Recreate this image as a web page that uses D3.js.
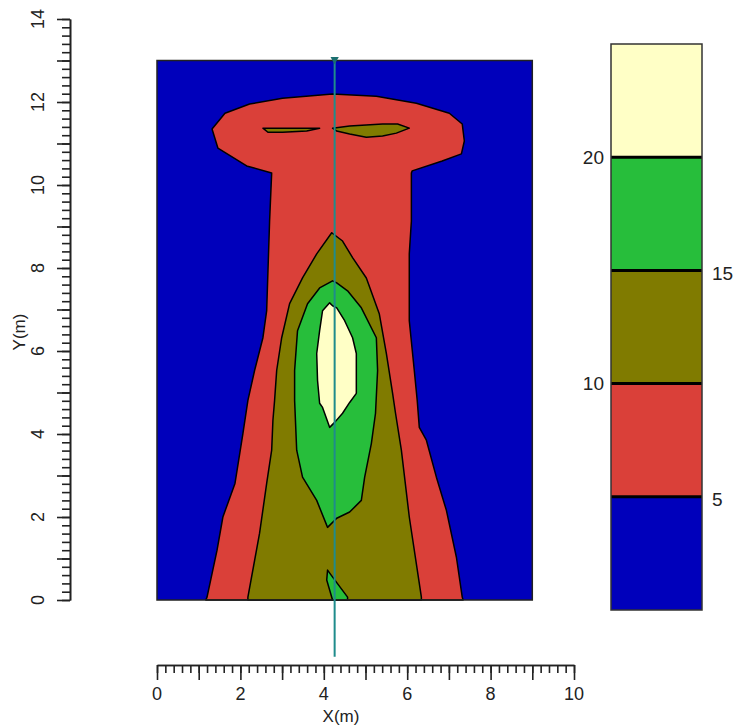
<!DOCTYPE html>
<html>
<head>
<meta charset="utf-8">
<script src="https://cdn.jsdelivr.net/npm/d3@7"></script>
<style>
body { margin: 0; background: #fff; }
text { font-family: Arial, "Liberation Sans", sans-serif; fill: #222; }
</style>
</head>
<body>
<div id="chart"></div>
<script>
// contour levels and the fill of each band (below 5 ... above 20)
var levels = [5, 10, 15, 20];
var bandColors = ["#0000bb", "#da4039", "#807b00", "#27be3b", "#ffffc6"];
var legendRange = [0, 25];
var legendLeft = [20, 10];   // labels drawn left of the colour bar
var legendRight = [15, 5];   // labels drawn right of it

// model extent (m)
var gridX = [0, 9];
var gridY = [0, 13];

// contour boundaries, [x(m), y(m)]
var zone5 = [
    [1.17, 0], [1.20, 0.07], [1.44, 1.20], [1.58, 2.00], [1.87, 2.81], [2.06, 4.01],
    [2.18, 4.81], [2.34, 5.53], [2.54, 6.32], [2.63, 6.97], [2.70, 9.13], [2.75, 10.29],
    [2.15, 10.46], [1.46, 10.89], [1.32, 11.35], [1.63, 11.73], [2.22, 11.95], [3.01, 12.09],
    [4.21, 12.19], [5.26, 12.14], [6.22, 11.97], [7.01, 11.73], [7.32, 11.47], [7.37, 11.06],
    [7.30, 10.75], [6.84, 10.58], [6.12, 10.34], [6.10, 10.29], [6.10, 9.13], [6.05, 8.34],
    [6.05, 6.73], [6.17, 5.53], [6.24, 4.81], [6.29, 4.16], [6.46, 3.85], [6.70, 2.96],
    [6.94, 2.16], [7.18, 1.03], [7.32, 0.07], [7.34, 0]
];
var zone10 = [
    [2.18, 0], [2.18, 0.07], [2.46, 1.61], [2.63, 2.81], [2.75, 3.61], [2.78, 4.33],
    [2.82, 4.81], [2.87, 5.53], [2.99, 6.32], [3.18, 7.14], [3.49, 7.76], [3.83, 8.34],
    [4.19, 8.85], [4.45, 8.65], [4.69, 8.25], [5.02, 7.76], [5.33, 6.90], [5.50, 5.94],
    [5.65, 4.98], [5.72, 4.50], [5.86, 3.61], [6.05, 2.00], [6.34, 0.07], [6.34, 0]
];
var zone10capLeft = [
    [2.54, 11.37], [3.18, 11.37], [3.90, 11.37], [3.59, 11.30], [3.01, 11.27], [2.66, 11.27]
];
var zone10capRight = [
    [4.21, 11.37], [4.62, 11.42], [5.41, 11.47], [5.77, 11.47], [6.05, 11.37], [5.74, 11.25],
    [5.41, 11.18], [5.02, 11.15], [4.62, 11.23], [4.31, 11.30]
];
var zone15 = [
    [4.21, 7.69], [3.90, 7.52], [3.61, 7.14], [3.37, 6.49], [3.30, 5.53], [3.30, 4.81],
    [3.35, 3.61], [3.49, 2.96], [3.83, 2.40], [4.09, 1.75], [4.31, 1.97], [4.62, 2.12],
    [4.90, 2.40], [4.98, 2.96], [5.14, 3.77], [5.24, 4.50], [5.29, 5.53], [5.26, 6.32],
    [4.90, 7.04], [4.57, 7.45], [4.31, 7.64]
];
var zone15foot = [
    [4.09, 0.72], [4.19, 0.58], [4.57, 0.07], [4.57, 0], [4.21, 0], [4.07, 0.48]
];
var zone20 = [
    [4.14, 7.16], [3.97, 6.97], [3.90, 6.49], [3.83, 5.94], [3.85, 5.29], [3.90, 4.74],
    [3.97, 4.64], [4.14, 4.16], [4.26, 4.28], [4.45, 4.50], [4.62, 4.76], [4.78, 4.98],
    [4.78, 5.94], [4.69, 6.32], [4.50, 6.73], [4.31, 7.04], [4.21, 7.09]
];
var zones = [
    { level: 5, pts: zone5 },
    { level: 10, pts: zone10 },
    { level: 10, pts: zone10capLeft },
    { level: 10, pts: zone10capRight },
    { level: 15, pts: zone15 },
    { level: 15, pts: zone15foot },
    { level: 20, pts: zone20 }
];

// profile line through the section
var profileX = 4.26;
var profileY = [13, -1.37];

var width = 740,
    height = 725;

var x = d3.scaleLinear().domain([0, 10]).range([157, 574]);
var y = d3.scaleLinear().domain([0, 14]).range([600, 19]);

var color = d3.scaleThreshold().domain(levels).range(bandColors);

var svg = d3.select("#chart").append("svg")
    .attr("width", width)
    .attr("height", height);

// plot background = lowest band
svg.append("rect")
    .attr("x", x(gridX[0]))
    .attr("y", y(gridY[1]))
    .attr("width", x(gridX[1]) - x(gridX[0]))
    .attr("height", y(gridY[0]) - y(gridY[1]))
    .attr("fill", bandColors[0]);

var line = d3.line()
    .x(function(d) { return x(d[0]); })
    .y(function(d) { return y(d[1]); });

svg.append("g")
    .selectAll("path")
    .data(zones)
    .enter().append("path")
    .attr("d", function(d) { return line(d.pts) + "Z"; })
    .attr("fill", function(d) { return color(d.level); })
    .attr("stroke", "#000")
    .attr("stroke-width", 1.5)
    .attr("stroke-linejoin", "round");

// frame
svg.append("rect")
    .attr("x", x(gridX[0]))
    .attr("y", y(gridY[1]))
    .attr("width", x(gridX[1]) - x(gridX[0]))
    .attr("height", y(gridY[0]) - y(gridY[1]))
    .attr("fill", "none")
    .attr("stroke", "#222")
    .attr("stroke-width", 1.5);

// profile
svg.append("line")
    .attr("x1", x(profileX)).attr("x2", x(profileX))
    .attr("y1", y(profileY[0])).attr("y2", y(profileY[1]))
    .attr("stroke", "#1f8c8c")
    .attr("stroke-width", 2);
svg.append("path")
    .attr("d", d3.symbol().type(d3.symbolTriangle).size(30))
    .attr("transform", "translate(" + x(profileX) + "," + (y(profileY[0]) - 1) + ") rotate(180)")
    .attr("fill", "#1a6f6f");

// axes: long tick every metre, short every 0.2 m, labels every 2 m
var minorVals = d3.range(0, 70.5).map(function(i) { return i / 5; });
var majorY = d3.range(0, 15);
var majorX = d3.range(0, 11);
var labelY = d3.range(0, 15, 2);
var labelX = d3.range(0, 11, 2);

function styleAxis(g) {
    g.selectAll("path, line").attr("stroke", "#222").attr("stroke-width", 1.6);
    g.selectAll("text").remove();
}

var yAxis = svg.append("g").attr("transform", "translate(70,0)");
yAxis.append("g")
    .call(d3.axisLeft(y).tickValues(minorVals).tickSize(8).tickSizeOuter(0))
    .call(styleAxis);
yAxis.append("g")
    .call(d3.axisLeft(y).tickValues(majorY).tickSize(13).tickSizeOuter(0))
    .call(styleAxis);

svg.append("g")
    .selectAll("text")
    .data(labelY)
    .enter().append("text")
    .attr("transform", function(d) { return "translate(38," + y(d) + ") rotate(-90)"; })
    .attr("text-anchor", "middle")
    .attr("dy", "0.35em")
    .style("font-size", "18px")
    .text(function(d) { return d; });

svg.append("text")
    .attr("transform", "translate(19,332) rotate(-90)")
    .attr("text-anchor", "middle")
    .attr("dy", "0.35em")
    .style("font-size", "17px")
    .text("Y(m)");

var xMinor = d3.range(0, 50.5).map(function(i) { return i / 5; });
var xAxis = svg.append("g").attr("transform", "translate(0,665)");
xAxis.append("g")
    .call(d3.axisBottom(x).tickValues(xMinor).tickSize(8).tickSizeOuter(0))
    .call(styleAxis);
xAxis.append("g")
    .call(d3.axisBottom(x).tickValues(majorX).tickSize(15).tickSizeOuter(0))
    .call(styleAxis);

svg.append("g")
    .selectAll("text")
    .data(labelX)
    .enter().append("text")
    .attr("x", function(d) { return x(d); })
    .attr("y", 694)
    .attr("text-anchor", "middle")
    .attr("dy", "0.35em")
    .style("font-size", "18px")
    .text(function(d) { return d; });

svg.append("text")
    .attr("x", 341)
    .attr("y", 716)
    .attr("text-anchor", "middle")
    .attr("dy", "0.35em")
    .style("font-size", "17px")
    .text("X(m)");

// colour bar
var ly = d3.scaleLinear().domain(legendRange).range([610, 44]);
var lx0 = 611,
    lx1 = 702;
var bands = d3.pairs([legendRange[0]].concat(levels, [legendRange[1]]));

var legend = svg.append("g");
legend.selectAll("rect")
    .data(bands)
    .enter().append("rect")
    .attr("x", lx0)
    .attr("y", function(d) { return ly(d[1]); })
    .attr("width", lx1 - lx0)
    .attr("height", function(d) { return ly(d[0]) - ly(d[1]); })
    .attr("fill", function(d, i) { return bandColors[i]; });
legend.selectAll("line")
    .data(levels)
    .enter().append("line")
    .attr("x1", lx0).attr("x2", lx1)
    .attr("y1", function(d) { return ly(d); })
    .attr("y2", function(d) { return ly(d); })
    .attr("stroke", "#000")
    .attr("stroke-width", 3);
legend.append("rect")
    .attr("x", lx0).attr("y", ly(legendRange[1]))
    .attr("width", lx1 - lx0)
    .attr("height", ly(legendRange[0]) - ly(legendRange[1]))
    .attr("fill", "none")
    .attr("stroke", "#333")
    .attr("stroke-width", 1.5);

legend.selectAll(".ll")
    .data(legendLeft)
    .enter().append("text")
    .attr("class", "ll")
    .attr("x", lx0 - 7)
    .attr("y", function(d) { return ly(d); })
    .attr("dy", "0.35em")
    .attr("text-anchor", "end")
    .style("font-size", "19px")
    .text(function(d) { return d; });
legend.selectAll(".lr")
    .data(legendRight)
    .enter().append("text")
    .attr("class", "lr")
    .attr("x", lx1 + 10)
    .attr("y", function(d) { return ly(d) + 3; })
    .attr("dy", "0.35em")
    .attr("text-anchor", "start")
    .style("font-size", "19px")
    .text(function(d) { return d; });
</script>
</body>
</html>
